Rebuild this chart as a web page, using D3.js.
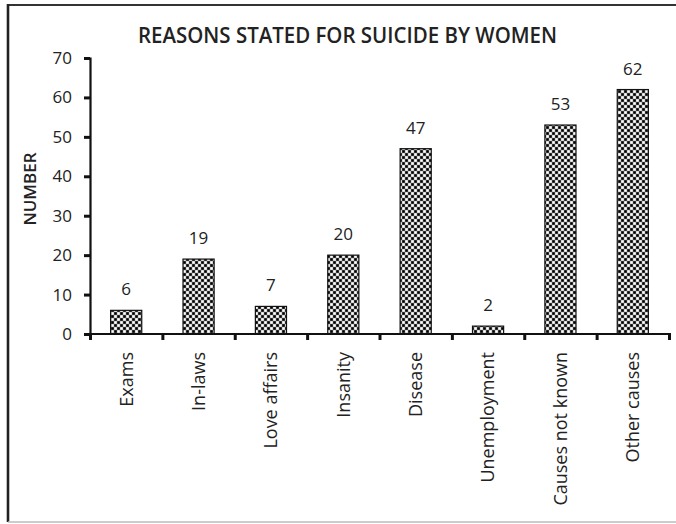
<!DOCTYPE html>
<html>
<head>
<meta charset="utf-8">
<script src="https://cdn.jsdelivr.net/npm/d3@7"></script>
<style>
  html, body { margin: 0; padding: 0; background: #fff; }
  svg { display: block; }
  text { font-family: "Open Sans", Lato, sans-serif; fill: #222; }
</style>
</head>
<body>
<svg id="chart" width="676" height="524"></svg>
<script>
const categories = ["Exams", "In-laws", "Love affairs", "Insanity", "Disease", "Unemployment", "Causes not known", "Other causes"];
const values = [6, 19, 7, 20, 47, 2, 53, 62];
const yTicks = [0, 10, 20, 30, 40, 50, 60, 70];
const title = "REASONS STATED FOR SUICIDE BY WOMEN";
const yLabel = "NUMBER";

const svg = d3.select("#chart");
const FONT = "'Open Sans', Lato, sans-serif";

// frame
svg.append("line").attr("x1", 8).attr("y1", 5).attr("x2", 676).attr("y2", 5)
  .attr("stroke", "#333").attr("stroke-width", 2.2);
svg.append("line").attr("x1", 8).attr("y1", 4).attr("x2", 8).attr("y2", 522)
  .attr("stroke", "#222").attr("stroke-width", 2.6);
svg.append("line").attr("x1", 8).attr("y1", 522).attr("x2", 676).attr("y2", 522)
  .attr("stroke", "#bbb").attr("stroke-width", 1.5);

// checker pattern
const defs = svg.append("defs");
const pat = defs.append("pattern").attr("id", "chk").attr("patternUnits", "userSpaceOnUse")
  .attr("width", 6).attr("height", 6);
pat.append("rect").attr("width", 6).attr("height", 6).attr("fill", "#8a8a8a");
pat.append("rect").attr("x", 0.25).attr("y", 0.25).attr("width", 2.5).attr("height", 2.5).attr("fill", "#000");
pat.append("rect").attr("x", 3.25).attr("y", 3.25).attr("width", 2.5).attr("height", 2.5).attr("fill", "#000");
pat.append("rect").attr("x", 3.25).attr("y", 0.25).attr("width", 2.5).attr("height", 2.5).attr("fill", "#fff");
pat.append("rect").attr("x", 0.25).attr("y", 3.25).attr("width", 2.5).attr("height", 2.5).attr("fill", "#fff");

const x0 = 90, x1 = 669, yBottom = 334, yTop = 58;

const x = d3.scaleBand().domain(categories).range([x0, x1])
  .paddingInner(0.57).paddingOuter(0.285);
const xEdges = d3.scaleLinear().domain([0, categories.length]).range([x0, x1]);
const y = d3.scaleLinear().domain([0, 70]).range([yBottom, yTop]);

// title
svg.append("text").attr("x", 347.5).attr("y", 43).attr("text-anchor", "middle")
  .attr("font-size", 22).attr("font-weight", 600)
  .attr("textLength", 419).attr("lengthAdjust", "spacingAndGlyphs")
  .text(title);

// bars
svg.selectAll("rect.bar").data(values).enter().append("rect").attr("class", "bar")
  .attr("x", (d, i) => x(categories[i]))
  .attr("y", d => y(d))
  .attr("width", x.bandwidth())
  .attr("height", d => y(0) - y(d))
  .attr("fill", "url(#chk)")
  .attr("stroke", "#111").attr("stroke-width", 1.2);

// value labels
svg.selectAll("text.val").data(values).enter().append("text").attr("class", "val")
  .attr("x", (d, i) => x(categories[i]) + x.bandwidth() / 2)
  .attr("y", d => y(d) - 15)
  .attr("text-anchor", "middle").attr("font-size", 17)
  .text(d => d);

// y axis
const yAxis = svg.append("g").attr("transform", `translate(${x0},0)`)
  .call(d3.axisLeft(y).tickValues(yTicks).tickSize(6).tickPadding(12));
yAxis.select(".domain").attr("stroke", "#111").attr("stroke-width", 2.2);
yAxis.selectAll(".tick line").attr("stroke", "#111").attr("stroke-width", 3);
yAxis.selectAll(".tick text").attr("font-size", 17).attr("fill", "#222")
  .attr("font-family", FONT);

// x axis
const xAxis = svg.append("g").attr("transform", `translate(0,${yBottom})`)
  .call(d3.axisBottom(xEdges).tickValues(d3.range(categories.length + 1)).tickSize(6).tickFormat(""));
xAxis.select(".domain").attr("d", `M${x0 - 6},0H${x1 + 2}`).attr("stroke", "#111").attr("stroke-width", 2.2);
xAxis.selectAll(".tick line").attr("stroke", "#111").attr("stroke-width", 3);

// x category labels
svg.selectAll("text.cat").data(categories).enter().append("text").attr("class", "cat")
  .attr("transform", d => `translate(${x(d) + x.bandwidth() / 2},352) rotate(-90)`)
  .attr("text-anchor", "end").attr("dy", "0.35em").attr("font-size", 18)
  .text(d => d);

// y label
svg.append("text").attr("transform", "translate(30,189) rotate(-90)")
  .attr("text-anchor", "middle").attr("dy", "0.35em").attr("font-size", 17).attr("font-weight", 600)
  .attr("fill", "#333")
  .text(yLabel);
</script>
</body>
</html>
